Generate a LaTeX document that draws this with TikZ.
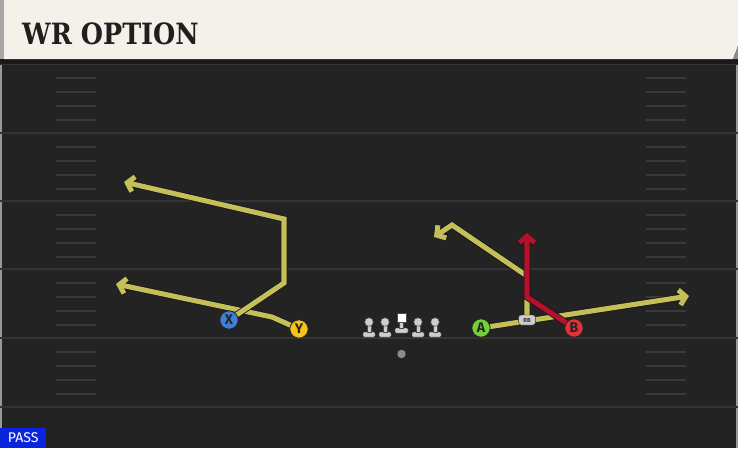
\documentclass[tikz,border=0pt]{standalone}
\usepackage{fontspec}
\setmainfont{Fira Sans}
\newfontfamily\titlefont{DejaVu Serif}
\usetikzlibrary{arrows.meta}
\definecolor{fieldbg}{HTML}{232323}
\definecolor{headcream}{HTML}{F4F1EA}
\definecolor{yardline}{HTML}{343434}
\definecolor{hashline}{HTML}{393939}
\definecolor{routeolive}{HTML}{C4BF58}
\definecolor{routered}{HTML}{B5102C}
\definecolor{xblue}{HTML}{3F7FD8}
\definecolor{yyellow}{HTML}{F4C41C}
\definecolor{agreen}{HTML}{72D13A}
\definecolor{bred}{HTML}{E5303C}
\definecolor{passblue}{HTML}{0B25DE}
\definecolor{linegray}{HTML}{CDCDCD}
\begin{document}
\begin{tikzpicture}[
  x=0.03cm, y=-0.03cm,
  player/.style={
    circle,
    draw=black!85,
    line width=0.7pt,
    minimum size=0.55cm,
    inner sep=0pt,
    text=black!85,
    font=\bfseries\fontsize{12}{12}\selectfont
  },
  route/.style={
    line width=4.3pt,
    line join=miter,
    -{Straight Barb[length=5.5pt,width=13pt]},
    preaction={draw=black!90, line width=5.8pt}
  },
  lman/.style={fill=linegray, draw=black!70, line width=0.4pt}
]
    \useasboundingbox (0,0) rectangle (738,448);
    % field
    \fill[fieldbg] (0,0) rectangle (738,448);
    \fill[black!40] (0,64) rectangle (2,448);
    \fill[black!40] (736,64) rectangle (738,448);
    \foreach \y in {64,133,201,269,338,407}{
        \draw[yardline, line width=1.6pt] (0,\y) -- (738,\y);
    }
    \foreach \y in {64,133,201,269,338}{
      \foreach \d in {14,28,42,56}{
        \draw[hashline, line width=1.3pt] (56,\y+\d) -- (96,\y+\d);
        \draw[hashline, line width=1.3pt] (646,\y+\d) -- (686,\y+\d);
      }
    }
    % header
    \fill[black!90] (0,58) rectangle (738,64);
    \fill[black!35] (0,0) rectangle (4,59);
    \fill[headcream] (4,0) -- (738,0) -- (738,46) -- (733,59) -- (4,59) -- cycle;
    \fill[black!45] (733,59) -- (738,46) -- (738,59) -- cycle;
    \node[anchor=base west, inner sep=0pt, text=black!88,
      font=\titlefont\bfseries\fontsize{25}{25}\selectfont] (title) at (22,44)
      {\scalebox{0.87}[1]{WR OPTION}};
    % spots
    \coordinate (xpos) at (229,320);
    \coordinate (ypos) at (299,329);
    \coordinate (apos) at (481,328);
    \coordinate (bpos) at (574,328);
    \coordinate (rbpos) at (527,320);
    % route corners and ends
    \coordinate (x1) at (284,283);
    \coordinate (x2) at (284,219);
    \coordinate (xend) at (124,182);
    \coordinate (y1) at (272,317);
    \coordinate (yend) at (116,284);
    \coordinate (aend) at (689,296);
    \coordinate (rb1) at (527,276);
    \coordinate (rb2) at (452,225);
    \coordinate (rbend) at (434,237);
    \coordinate (b1) at (527,297);
    \coordinate (bend) at (527,233);
    \path[route, draw=routeolive] (ypos) -- (y1) -- (yend);
    \path[route, draw=routeolive] (xpos) -- (x1) -- (x2) -- (xend);
    \path[route, draw=routeolive] (apos) -- (aend);
    \path[route, draw=routeolive] (rbpos) -- (rb1) -- (rb2) -- (rbend);
    \path[route, draw=routered] (bpos) -- (b1) -- (bend);
    % line
    \foreach \x in {369,385,418,435}{
        \fill[lman, rounded corners=1pt] (\x-6,332) rectangle (\x+6,337);
        \fill[lman] (\x-2,323) rectangle (\x+2,332.5);
        \fill[lman] (\x,322) circle (4.3);
    }
    \fill[lman, rounded corners=1pt] (395,328) rectangle (408,333);
    \fill[lman] (399.5,321) rectangle (403.5,328.5);
    \fill[white, draw=black!70, line width=0.4pt] (397,313) rectangle (406,322);
    \fill[black!45] (401.5,354) circle (4.2);
    % players
    \node[player, fill=xblue] (X) at (xpos) {X};
    \node[player, fill=yyellow] (Y) at (ypos) {Y};
    \node[player, fill=agreen] (A) at (apos) {A};
    \node[player, fill=bred] (B) at (bpos) {B};
    \node[fill=linegray, draw=black!80, line width=0.4pt, rounded corners=2pt,
      inner sep=0pt, minimum width=0.5cm, minimum height=0.3cm, text=black!80,
      font=\bfseries\fontsize{5}{5}\selectfont] (RB) at (rbpos) {RB};
    % play type
    \node[fill=passblue, text=white, anchor=south west, inner sep=0pt,
      minimum width=1.38cm, minimum height=0.6cm,
      font=\fontsize{12}{12}\selectfont] (pass) at (0,448) {PASS};
\end{tikzpicture}
\end{document}
